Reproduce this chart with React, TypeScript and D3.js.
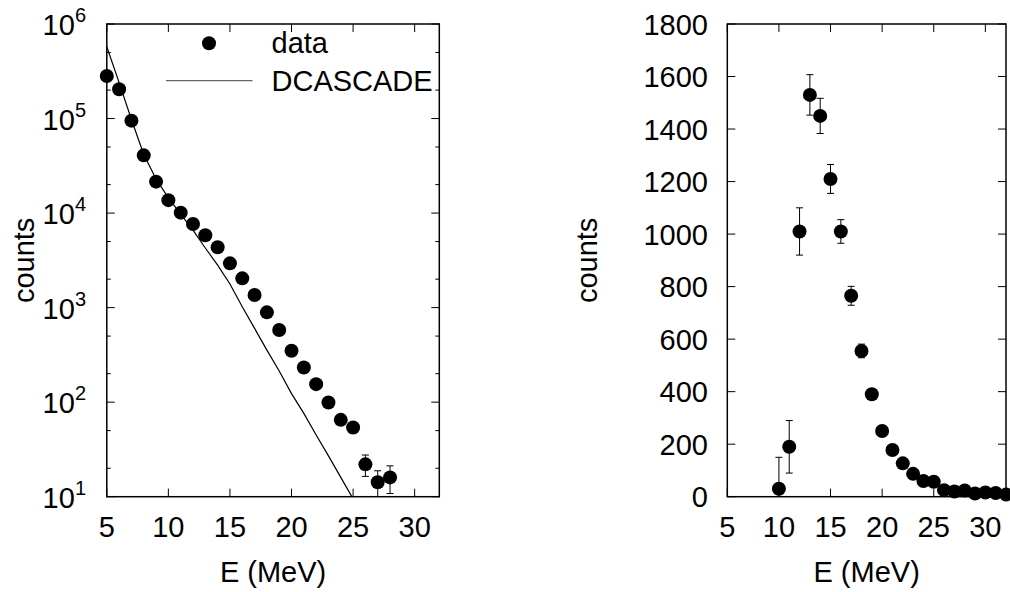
import React from "react";
import * as d3 from "d3";

// ---------- data ----------
const leftEnergies = [5, 6, 7, 8, 9, 10, 11, 12, 13, 14, 15, 16, 17, 18, 19, 20, 21, 22, 23, 24, 25, 26, 27, 28];
const leftCounts = [282000, 204000, 95000, 40800, 21500, 13700, 10100, 7670, 5820, 4350, 2940, 2040, 1360, 891, 580, 350, 233, 155, 99, 65, 54, 22, 14.2, 16];
const leftErrors = [530, 450, 310, 200, 150, 120, 100, 88, 76, 66, 54, 45, 37, 30, 24, 19, 15, 12, 10, 8, 7, 5.6, 4.6, 5.2];

const theoryEnergies = [5, 6, 7, 8, 9, 10, 11, 12, 13, 14, 15, 16, 17, 18, 19, 20, 21, 22, 23, 24, 25];
const theoryCounts = [575000, 240000, 97700, 41700, 22900, 14500, 9770, 6610, 4270, 2820, 1780, 1020, 603, 355, 214, 123, 76, 45, 27, 16, 9.5];

const rightEnergies = [10, 11, 12, 13, 14, 15, 16, 17, 18, 19, 20, 21, 22, 23, 24, 25, 26, 27, 28, 29, 30, 31, 32];
const rightCounts = [30, 190, 1010, 1530, 1450, 1210, 1010, 765, 555, 390, 250, 178, 127, 87, 60, 57, 25, 20, 24, 12, 16, 14, 8];
const rightErrors = [120, 100, 90, 77, 67, 55, 45, 36, 26, 20, 16, 13, 11, 9, 8, 8, 5, 4, 5, 3, 4, 4, 3];

const xTicks = [5, 10, 15, 20, 25, 30];
const logMajorTicks = [10, 100, 1000, 10000, 100000, 1000000];
const logMinorTicks = [20, 50, 200, 500, 2000, 5000, 20000, 50000, 200000, 500000];
const linTicks = [0, 200, 400, 600, 800, 1000, 1200, 1400, 1600, 1800];
const legendLabels = ["data", "DCASCADE"];
const xLabel = "E (MeV)";
const yLabel = "counts";

// ---------- layout ----------
const FONT = "'Liberation Sans', Arial, Helvetica, sans-serif";
const L = { left: 106.8, right: 439.3, top: 24, bottom: 496.7 };
const R = { left: 727.3, right: 1006, top: 24, bottom: 496.7 };
const DOT_R = 7;
const CAP = 3.5;

export default function App() {
  const xL = d3.scaleLinear().domain([5, 32]).range([L.left, L.right]);
  const yL = d3.scaleLog().domain([10, 1e6]).range([L.bottom, L.top]);
  const xR = d3.scaleLinear().domain([5, 32]).range([R.left, R.right]);
  const yR = d3.scaleLinear().domain([0, 1800]).range([R.bottom, R.top]);

  const line = d3
    .line<number>()
    .x((_, i) => xL(theoryEnergies[i]))
    .y((d) => yL(d));

  const superscripts: Record<number, string> = { 10: "1", 100: "2", 1000: "3", 10000: "4", 100000: "5", 1000000: "6" };

  return (
    <div style={{ position: "absolute", left: 0, top: 0 }}>
      <svg width={1010} height={592} style={{ display: "block", background: "#fff" }} fontFamily={FONT}>
        <defs>
          <clipPath id="clipL">
            <rect x={L.left} y={L.top} width={L.right - L.left} height={L.bottom - L.top} />
          </clipPath>
          <clipPath id="clipR">
            <rect x={R.left} y={R.top} width={R.right - R.left} height={R.bottom - R.top} />
          </clipPath>
        </defs>

        {/* ================= LEFT PANEL ================= */}
        <g>
          {/* x ticks */}
          {xTicks.map((t) => (
            <g key={"lx" + t}>
              <line x1={xL(t)} x2={xL(t)} y1={L.bottom} y2={L.bottom - 8} stroke="#000" strokeWidth={1} />
              <line x1={xL(t)} x2={xL(t)} y1={L.top} y2={L.top + 8} stroke="#000" strokeWidth={1} />
              <text x={xL(t)} y={L.bottom + 40} fontSize={29} textAnchor="middle" fill="#000">
                {t}
              </text>
            </g>
          ))}
          {/* y major ticks */}
          {logMajorTicks.map((t) => (
            <g key={"ly" + t}>
              <line x1={L.left} x2={L.left + 8} y1={yL(t)} y2={yL(t)} stroke="#000" strokeWidth={1} />
              <line x1={L.right} x2={L.right - 8} y1={yL(t)} y2={yL(t)} stroke="#000" strokeWidth={1} />
              <text x={86} y={yL(t) + 11} fontSize={29} textAnchor="end" fill="#000">
                10
                <tspan fontSize={20} dy={-13}>
                  {superscripts[t]}
                </tspan>
              </text>
            </g>
          ))}
          {/* y minor ticks */}
          {logMinorTicks.map((t) => (
            <g key={"lm" + t}>
              <line x1={L.left} x2={L.left + 4} y1={yL(t)} y2={yL(t)} stroke="#000" strokeWidth={1} />
              <line x1={L.right} x2={L.right - 4} y1={yL(t)} y2={yL(t)} stroke="#000" strokeWidth={1} />
            </g>
          ))}

          {/* theory line */}
          <path d={line(theoryCounts) || ""} fill="none" stroke="#000" strokeWidth={1.2} clipPath="url(#clipL)" />

          {/* error bars */}
          <g clipPath="url(#clipL)">
            {leftEnergies.map((e, i) => {
              const lo = Math.max(leftCounts[i] - leftErrors[i], 1);
              const hi = leftCounts[i] + leftErrors[i];
              const x = xL(e);
              return (
                <g key={"le" + i} stroke="#000" strokeWidth={1}>
                  <line x1={x} x2={x} y1={yL(lo)} y2={yL(hi)} />
                  <line x1={x - CAP} x2={x + CAP} y1={yL(lo)} y2={yL(lo)} />
                  <line x1={x - CAP} x2={x + CAP} y1={yL(hi)} y2={yL(hi)} />
                </g>
              );
            })}
          </g>
          {/* points */}
          {leftEnergies.map((e, i) => (
            <circle key={"lp" + i} cx={xL(e)} cy={yL(leftCounts[i])} r={DOT_R} fill="#000" />
          ))}

          {/* frame */}
          <rect x={L.left} y={L.top} width={L.right - L.left} height={L.bottom - L.top} fill="none" stroke="#000" strokeWidth={1.5} />

          {/* legend */}
          <circle cx={209} cy={43.3} r={DOT_R} fill="#000" />
          <text x={271.5} y={53} fontSize={29} fill="#000">
            {legendLabels[0]}
          </text>
          <line x1={166} x2={252.5} y1={80.7} y2={80.7} stroke="#666" strokeWidth={1.3} />
          <text x={271.5} y={90.5} fontSize={29} fill="#000">
            {legendLabels[1]}
          </text>

          {/* axis labels */}
          <text x={(L.left + L.right) / 2} y={581.5} fontSize={29} textAnchor="middle" fill="#000">
            {xLabel}
          </text>
          <text transform={`translate(33.5, ${(L.top + L.bottom) / 2}) rotate(-90)`} fontSize={29} textAnchor="middle" fill="#000">
            {yLabel}
          </text>
        </g>

        {/* ================= RIGHT PANEL ================= */}
        <g>
          {xTicks.map((t) => (
            <g key={"rx" + t}>
              <line x1={xR(t)} x2={xR(t)} y1={R.bottom} y2={R.bottom - 8} stroke="#000" strokeWidth={1} />
              <line x1={xR(t)} x2={xR(t)} y1={R.top} y2={R.top + 8} stroke="#000" strokeWidth={1} />
              <text x={xR(t)} y={R.bottom + 40} fontSize={29} textAnchor="middle" fill="#000">
                {t}
              </text>
            </g>
          ))}
          {linTicks.map((t) => (
            <g key={"ry" + t}>
              <line x1={R.left} x2={R.left + 8} y1={yR(t)} y2={yR(t)} stroke="#000" strokeWidth={1} />
              <line x1={R.right} x2={R.right - 8} y1={yR(t)} y2={yR(t)} stroke="#000" strokeWidth={1} />
              <text x={708} y={yR(t) + 10.5} fontSize={29} textAnchor="end" fill="#000">
                {t}
              </text>
            </g>
          ))}

          <g clipPath="url(#clipR)">
            {rightEnergies.map((e, i) => {
              const lo = rightCounts[i] - rightErrors[i];
              const hi = rightCounts[i] + rightErrors[i];
              const x = xR(e);
              return (
                <g key={"re" + i} stroke="#000" strokeWidth={1}>
                  <line x1={x} x2={x} y1={yR(lo)} y2={yR(hi)} />
                  <line x1={x - CAP} x2={x + CAP} y1={yR(lo)} y2={yR(lo)} />
                  <line x1={x - CAP} x2={x + CAP} y1={yR(hi)} y2={yR(hi)} />
                </g>
              );
            })}
          </g>
          {rightEnergies.map((e, i) => (
            <circle key={"rp" + i} cx={xR(e)} cy={yR(rightCounts[i])} r={DOT_R} fill="#000" />
          ))}

          <rect x={R.left} y={R.top} width={R.right - R.left} height={R.bottom - R.top} fill="none" stroke="#000" strokeWidth={1.5} />

          <text x={(R.left + R.right) / 2} y={581.5} fontSize={29} textAnchor="middle" fill="#000">
            {xLabel}
          </text>
          <text transform={`translate(597, ${(R.top + R.bottom) / 2}) rotate(-90)`} fontSize={29} textAnchor="middle" fill="#000">
            {yLabel}
          </text>
        </g>
      </svg>
    </div>
  );
}
